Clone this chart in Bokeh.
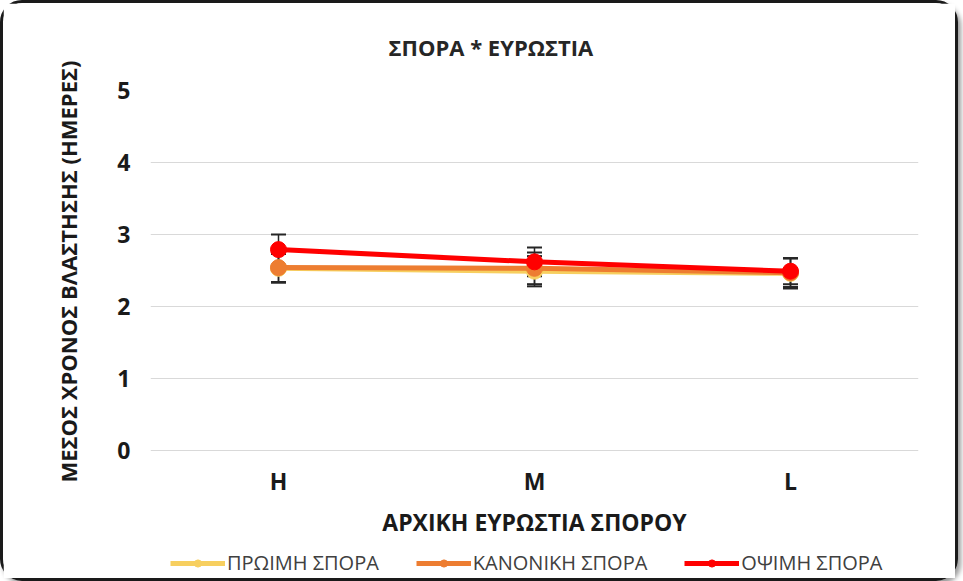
from bokeh.plotting import figure
from bokeh.models import (ColumnDataSource, Whisker, Legend, LegendItem, Range1d,
                          FactorRange, Title)
from bokeh.embed import file_html
from bokeh.resources import INLINE

categories = ["H", "M", "L"]
early = [2.53, 2.49, 2.46]
normal = [2.54, 2.53, 2.47]
late = [2.79, 2.62, 2.49]
early_err = [0.20, 0.21, 0.21]
normal_err = [0.20, 0.22, 0.20]
late_err = [0.21, 0.20, 0.18]
series_names = ["ΠΡΩΙΜΗ ΣΠΟΡΑ", "ΚΑΝΟΝΙΚΗ ΣΠΟΡΑ", "ΟΨΙΜΗ ΣΠΟΡΑ"]
colors = ["#F7CF5F", "#ED7D31", "#FF0000"]
y_ticks = [0, 1, 2, 3, 4, 5]

FONT = "Open Sans"

# frame extends below zero so that x labels and legend sit inside the card
p = figure(width=952, height=575, frame_width=768, frame_height=488,
           x_range=FactorRange(*categories),
           y_range=Range1d(-1.778, 5), output_backend="svg", toolbar_location=None,
           min_border_left=147, min_border_right=37, min_border_top=87,
           min_border_bottom=0)
p.styles = {"border": "3px solid #1a1a1a", "border-radius": "22px",
            "box-shadow": "3px 4px 5px #9a9a9a"}
p.outline_line_color = None
p.background_fill_color = "white"
p.border_fill_color = "white"

t = Title(text="ΣΠΟΡΑ * ΕΥΡΩΣΤΙΑ", text_font=FONT, text_font_size="22px",
          text_font_style="bold", text_color="#262626", align="left", offset=238,
          vertical_align="top", standoff=54)
p.add_layout(t, "above")
p.title.visible = False

ylab = Title(text="ΜΕΣΟΣ ΧΡΟΝΟΣ ΒΛΑΣΤΗΣΗΣ (ΗΜΕΡΕΣ)", text_font=FONT,
             text_font_size="22px", text_font_style="bold", text_color="#1a1a1a",
             align="left", offset=96, vertical_align="bottom", standoff=64)
p.add_layout(ylab, "left")

p.xgrid.grid_line_color = None
p.ygrid.grid_line_color = "#d9d9d9"
p.ygrid.grid_line_width = 1
p.yaxis.ticker = y_ticks
for ax in (p.xaxis, p.yaxis):
    ax.axis_line_color = None
    ax.major_tick_line_color = None
    ax.minor_tick_line_color = None
    ax.major_tick_out = 0
    ax.major_tick_in = 0
    ax.major_label_text_font = FONT
    ax.major_label_text_font_style = "bold"
    ax.major_label_text_font_size = "23px"
    ax.major_label_text_color = "#1a1a1a"
    ax.axis_label_text_font = FONT
    ax.axis_label_text_font_style = "bold"
    ax.axis_label_text_font_size = "23px"
    ax.axis_label_text_color = "#1a1a1a"
p.xaxis.fixed_location = 0
p.xaxis.axis_label = "ΑΡΧΙΚΗ ΕΥΡΩΣΤΙΑ ΣΠΟΡΟΥ"
p.yaxis.major_label_standoff = 20
p.xaxis.major_label_standoff = 15
p.xaxis.axis_label_standoff = 5

items = []
for vals, errs, name, col in zip([early, normal, late], [early_err, normal_err, late_err],
                                  series_names, colors):
    src = ColumnDataSource(dict(x=categories, y=vals,
                                upper=[v + e for v, e in zip(vals, errs)],
                                lower=[v - e for v, e in zip(vals, errs)]))
    w = Whisker(source=src, base="x", upper="upper", lower="lower",
                line_color="#262626", line_width=1.5)
    w.upper_head.line_color = "#262626"
    w.lower_head.line_color = "#262626"
    w.upper_head.line_width = 2
    w.lower_head.line_width = 2
    w.upper_head.size = 15
    w.lower_head.size = 15
    p.add_layout(w)
    ln = p.line("x", "y", source=src, line_color=col, line_width=5)
    sc = p.scatter("x", "y", source=src, size=16, fill_color=col, line_color=col)
    items.append(LegendItem(label=name, renderers=[ln, sc]))

legend = Legend(items=items, orientation="horizontal", location=(20, 2),
                label_text_font=FONT, label_text_font_size="20px",
                label_text_color="#404040", glyph_width=55, glyph_height=18,
                label_height=18, spacing=37, border_line_color=None,
                background_fill_alpha=0, margin=0, padding=0, label_standoff=2)
p.add_layout(legend, "center")

open("out.html", "w").write(file_html(p, INLINE))
